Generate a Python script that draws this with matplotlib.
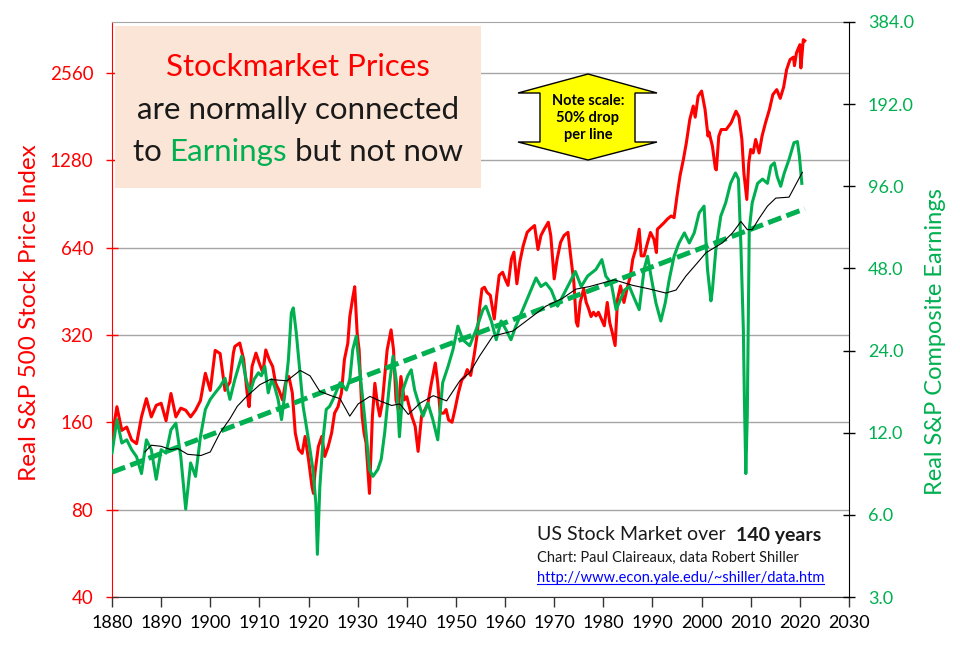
import matplotlib
matplotlib.use("Agg")
import matplotlib.pyplot as plt
from matplotlib.patches import Rectangle, Polygon
from matplotlib.lines import Line2D
from matplotlib.offsetbox import TextArea, HPacker, AnchoredOffsetbox
from matplotlib.ticker import FixedLocator, NullLocator, FuncFormatter

plt.rcParams['font.family'] = ['Lato', 'DejaVu Sans']

RED = '#FF0000'
GREEN = '#00B050'
DARK = '#1A1A1A'

# Real S&P 500 price index (left axis)
price_years = [1880.0, 1881.0, 1882.0, 1883.0, 1884.0, 1885.0, 1886.0, 1887.0, 1888.0, 1889.0,
               1890.0, 1891.0, 1892.0, 1893.0, 1894.0, 1895.0, 1896.0, 1897.0, 1898.0, 1899.0,
               1900.0, 1901.0, 1902.0, 1903.0, 1904.0, 1904.7, 1905.0, 1906.0, 1906.8, 1907.5,
               1907.9, 1908.5, 1909.3, 1910.0, 1910.7, 1911.3, 1912.0, 1912.7, 1913.3, 1914.0,
               1914.7, 1915.3, 1916.0, 1916.7, 1917.3, 1918.0, 1918.7, 1919.3, 1920.0, 1920.7,
               1921.0, 1921.3, 1922.0, 1922.7, 1923.3, 1924.0, 1924.7, 1925.3, 1926.0, 1926.7,
               1927.3, 1928.0, 1928.4, 1929.0, 1929.4, 1929.9, 1930.3, 1930.9, 1931.3, 1931.7,
               1932.4, 1933.0, 1933.5, 1934.0, 1934.5, 1935.0, 1935.5, 1936.0, 1936.8, 1937.3,
               1937.8, 1938.3, 1938.8, 1939.5, 1940.0, 1940.5, 1941.0, 1941.7, 1942.3, 1943.0,
               1943.7, 1944.3, 1945.0, 1945.8, 1946.3, 1946.8, 1947.5, 1948.0, 1948.5, 1949.2,
               1949.8, 1950.5, 1951.2, 1951.8, 1952.3, 1953.0, 1953.7, 1954.3, 1954.8, 1955.3,
               1955.8, 1956.3, 1957.0, 1957.8, 1958.3, 1958.8, 1959.5, 1960.0, 1960.6, 1961.3,
               1961.8, 1962.4, 1963.0, 1963.7, 1964.5, 1965.2, 1966.0, 1966.7, 1967.3, 1968.0,
               1968.8, 1969.3, 1970.0, 1970.6, 1971.3, 1972.0, 1972.8, 1973.5, 1974.0, 1974.5,
               1974.8, 1975.3, 1976.0, 1976.5, 1977.0, 1977.5, 1978.0, 1978.5, 1979.0, 1979.6,
               1980.2, 1980.8, 1981.3, 1981.8, 1982.4, 1982.9, 1983.5, 1984.2, 1984.8, 1985.5,
               1986.0, 1986.6, 1987.3, 1987.7, 1988.3, 1989.0, 1989.6, 1990.3, 1990.8, 1991.0,
               1991.7, 1992.4, 1993.0, 1993.8, 1994.4, 1995.0, 1995.6, 1996.3, 1996.9, 1997.6,
               1998.3, 1998.7, 1999.3, 2000.0, 2000.7, 2001.3, 2001.5, 2002.2, 2002.8, 2003.0,
               2003.5, 2004.0, 2005.0, 2006.0, 2007.0, 2007.6, 2008.2, 2008.6, 2009.2, 2009.6,
               2010.0, 2010.5, 2011.0, 2011.7, 2012.3, 2013.0, 2013.8, 2014.5, 2015.3, 2016.0,
               2016.7, 2017.3, 2018.0, 2018.7, 2018.9, 2019.3, 2020.0, 2020.2, 2020.7, 2021.0]
price = [142, 181, 150, 154, 139, 135, 167, 193, 167, 183,
         186, 162, 201, 167, 179, 176, 167, 176, 190, 236,
         206, 283, 276, 206, 220, 277, 292, 300, 263, 202,
         181, 249, 277, 255, 237, 284, 263, 249, 218, 206,
         191, 218, 230, 202, 147, 129, 125, 143, 119, 96,
         91, 107, 132, 143, 122, 132, 147, 172, 181, 202,
         263, 300, 370, 430, 469, 324, 284, 168, 147, 136,
         91, 168, 218, 186, 168, 186, 230, 284, 333, 284,
         191, 177, 230, 191, 196, 181, 168, 155, 127, 168,
         177, 186, 218, 256, 218, 172, 172, 177, 163, 160,
         177, 202, 224, 230, 243, 232, 272, 319, 394, 461,
         467, 449, 438, 363, 438, 513, 526, 499, 474, 585,
         617, 480, 570, 650, 722, 742, 762, 630, 704, 742,
         782, 704, 499, 585, 667, 704, 722, 570, 486, 354,
         343, 415, 461, 415, 394, 370, 383, 372, 383, 363,
         344, 414, 353, 327, 294, 425, 472, 414, 460, 511,
         584, 632, 740, 599, 599, 666, 721, 683, 615, 740,
         760, 780, 801, 822, 811, 964, 1129, 1289, 1470, 1769,
         1966, 1800, 2128, 2214, 1915, 1550, 1600, 1430, 1198, 1185,
         1548, 1632, 1632, 1720, 1887, 1805, 1508, 1158, 937, 1253,
         1393, 1355, 1508, 1355, 1548, 1720, 1912, 2153, 2240, 2090,
         2285, 2625, 2842, 2899, 2708, 2996, 3200, 2660, 3329, 3300]

# Real S&P composite earnings (right axis)
earn_years = [1880.0, 1881.0, 1882.0, 1883.0, 1884.0, 1885.0, 1886.0, 1887.0, 1888.0, 1889.0,
              1890.0, 1891.0, 1892.0, 1893.0, 1894.0, 1895.0, 1896.0, 1897.0, 1898.0, 1899.0,
              1900.0, 1901.0, 1902.0, 1903.0, 1904.0, 1905.0, 1906.4, 1907.3, 1908.1, 1908.9,
              1909.8, 1910.4, 1911.1, 1911.8, 1912.5, 1913.1, 1913.8, 1914.5, 1915.2, 1915.9,
              1916.5, 1916.9, 1917.5, 1918.2, 1918.9, 1919.9, 1920.9, 1921.5, 1921.8, 1922.3,
              1923.0, 1923.6, 1924.3, 1925.0, 1926.4, 1927.7, 1928.4, 1929.0, 1929.7, 1930.4,
              1931.4, 1932.4, 1933.1, 1934.1, 1934.8, 1935.5, 1936.5, 1937.2, 1937.9, 1938.5,
              1939.2, 1940.2, 1940.9, 1941.6, 1942.6, 1943.3, 1944.3, 1945.3, 1946.3, 1947.3,
              1948.4, 1949.4, 1950.4, 1951.4, 1952.8, 1954.1, 1955.5, 1956.1, 1957.2, 1958.2,
              1959.2, 1960.2, 1961.2, 1962.2, 1963.6, 1965.0, 1966.3, 1967.3, 1968.3, 1969.4,
              1970.7, 1971.7, 1973.1, 1974.3, 1975.5, 1976.8, 1978.5, 1979.7, 1980.5, 1981.6,
              1982.6, 1983.2, 1984.3, 1985.3, 1986.3, 1987.3, 1988.3, 1989.0, 1989.7, 1990.7,
              1991.7, 1992.6, 1993.4, 1994.4, 1995.4, 1996.5, 1997.5, 1998.5, 1999.5, 2000.5,
              2001.2, 2001.9, 2002.2, 2002.9, 2003.9, 2004.9, 2005.9, 2006.9, 2007.5, 2008.0,
              2008.5, 2008.7, 2009.0, 2009.3, 2009.7, 2010.3, 2011.4, 2012.4, 2013.4, 2014.1,
              2014.8, 2015.4, 2016.1, 2016.8, 2017.8, 2018.8, 2019.5, 2019.9, 2020.4]
earnings = [10.1, 13.4, 11.0, 11.3, 10.4, 9.8, 8.5, 11.3, 10.4, 8.1,
            10.4, 10.1, 12.3, 13.0, 9.8, 6.3, 9.3, 8.3, 11.6, 14.6,
            15.9, 16.8, 17.7, 19.0, 15.9, 18.8, 22.9, 18.8, 16.8, 18.8,
            19.9, 19.4, 21.0, 16.8, 18.8, 17.7, 15.9, 13.4, 16.8, 22.2,
            33.0, 34.4, 27.9, 20.4, 15.0, 11.6, 8.8, 6.6, 4.3, 7.6,
            11.6, 14.6, 15.0, 15.9, 18.3, 17.2, 18.8, 24.2, 27.1, 20.4,
            13.8, 8.8, 8.3, 8.8, 9.6, 12.0, 18.3, 22.9, 18.3, 11.6,
            17.2, 19.4, 20.4, 17.2, 15.0, 13.8, 15.4, 13.4, 11.3, 18.3,
            21.0, 24.2, 29.5, 26.3, 25.0, 28.6, 33.9, 34.9, 30.8, 26.3,
            30.8, 28.6, 26.3, 29.5, 33.9, 39.0, 44.3, 41.2, 42.4, 40.0,
            34.9, 37.9, 42.4, 46.8, 41.2, 45.0, 47.6, 51.7, 45.0, 42.4,
            33.9, 35.9, 40.0, 41.2, 37.3, 33.9, 47.6, 53.2, 45.0, 35.9,
            30.8, 35.9, 43.6, 53.2, 59.5, 64.8, 59.5, 64.8, 76.7, 81.2,
            47.6, 36.5, 40.0, 56.3, 74.6, 83.5, 98.4, 107.4, 102.0, 57.9,
            28.6, 16.3, 8.5, 14.0, 66.6, 83.5, 98.4, 102.0, 98.4, 113.9,
            117.0, 104.0, 96.0, 107.0, 120.5, 138.7, 140.0, 124.0, 98.4]

# smoothed earnings (thin black line, right axis)
avg_years = [1886.7, 1888.0, 1890.0, 1892.0, 1893.4, 1895.4, 1898.1, 1900.0, 1902.0, 1904.0,
             1905.5, 1907.4, 1910.1, 1912.2, 1915.6, 1918.3, 1920.3, 1922.3, 1925.0, 1926.4,
             1928.4, 1930.1, 1932.5, 1934.5, 1936.9, 1938.6, 1940.3, 1942.7, 1945.4, 1948.1,
             1950.8, 1952.8, 1954.8, 1957.5, 1961.6, 1964.3, 1968.3, 1971.7, 1974.4, 1977.2,
             1982.2, 1986.0, 1989.3, 1992.7, 1994.8, 1996.8, 1998.8, 2000.9, 2004.2, 2006.3,
             2008.0, 2009.3, 2010.3, 2011.7, 2013.4, 2015.1, 2017.8, 2019.3, 2020.5]
avg_earnings = [10.2, 10.8, 10.7, 10.4, 10.5, 10.0, 9.9, 10.2, 12.0, 13.5,
                15.0, 16.3, 18.0, 18.8, 18.6, 20.3, 19.4, 17.0, 16.3, 16.0,
                13.8, 15.3, 16.3, 15.7, 15.1, 15.3, 14.0, 15.4, 16.4, 15.7,
                18.6, 19.9, 22.9, 27.1, 28.3, 30.8, 34.9, 37.3, 40.3, 41.2,
                43.6, 41.6, 40.4, 39.0, 40.0, 45.0, 49.5, 54.8, 59.5, 64.8,
                71.3, 66.6, 66.6, 73.2, 81.2, 86.9, 87.6, 98.4, 108.0]

# earnings trend (dashed)
trend_years = [1880, 2021]
trend_earnings = [8.6, 79.4]

left_ticks = [40, 80, 160, 320, 640, 1280, 2560]
right_ticks = [3, 6, 12, 24, 48, 96, 192, 384]
x_ticks = list(range(1880, 2031, 10))

W, H = 960, 655
fig = plt.figure(figsize=(W / 100, H / 100), dpi=100)
fig.patch.set_facecolor('white')


def fx(px):
    return px / W


def fy(py):
    return 1 - py / H


ax = fig.add_axes([fx(112), fy(597), (849 - 112) / W, (597 - 22) / H])
ax2 = ax.twinx()

ax.plot(price_years, price, color=RED, lw=2.2, zorder=2)
ax2.plot(earn_years, earnings, color=GREEN, lw=2.2, zorder=2)
ax2.plot(trend_years, trend_earnings, color=GREEN, lw=3.6, dashes=(2.8, 1.1), zorder=3)
ax2.plot(avg_years, avg_earnings, color='black', lw=0.8, zorder=4)

# left axis
ax.set_yscale('log', base=2)
ax.set_ylim(40, 3830)
ax.yaxis.set_major_locator(FixedLocator(left_ticks))
ax.yaxis.set_minor_locator(NullLocator())
ax.yaxis.set_major_formatter(FuncFormatter(lambda v, p: '%d' % round(v)))
ax.tick_params(axis='y', colors=RED, direction='inout', length=9, width=1,
               labelsize=13.5, pad=9)
ax.yaxis.grid(True, color='#A6A6A6', lw=1)
ax.set_ylabel('Real S&P 500 Stock Price Index', color=RED, fontsize=17.5)
ax.yaxis.set_label_coords(-0.098, 0.494)

# right axis
ax2.set_yscale('log', base=2)
ax2.set_ylim(3, 384)
ax2.yaxis.set_major_locator(FixedLocator(right_ticks))
ax2.yaxis.set_minor_locator(NullLocator())
ax2.yaxis.set_major_formatter(FuncFormatter(lambda v, p: '%.1f' % v))
ax2.tick_params(axis='y', colors='black', labelcolor=GREEN, direction='inout',
                length=9, width=1, labelsize=13, pad=9)
ax2.set_ylabel('Real S&P Composite Earnings', color=GREEN, fontsize=17)
ax2.yaxis.set_label_coords(1.103, 0.445)

# x axis
ax.set_xlim(1880, 2030)
ax.xaxis.set_major_locator(FixedLocator(x_ticks))
ax.tick_params(axis='x', colors='#333333', labelcolor='black', direction='out',
               length=7, width=1, labelsize=13, pad=6)

ax.spines['left'].set_color(RED)
ax.spines['top'].set_color('#A6A6A6')
ax.spines['bottom'].set_color('#333333')
ax.spines['right'].set_visible(False)
for s in ['left', 'top', 'bottom']:
    ax2.spines[s].set_visible(False)
ax2.spines['right'].set_color('black')

# peach title box
ax2.add_patch(Rectangle((fx(115), fy(188)), (481 - 115) / W, (188 - 26) / H,
                        transform=fig.transFigure, facecolor='#FBE5D6',
                        edgecolor='none', clip_on=False, zorder=10))


def text_row(parts, xy, loc, size):
    boxes = [TextArea(t, textprops=dict(color=c, fontsize=size, fontweight=w))
             for t, c, w in parts]
    row = HPacker(children=boxes, align='baseline', pad=0, sep=0)
    anchored = AnchoredOffsetbox(loc=loc, child=row, pad=0, borderpad=0, frameon=False,
                                 bbox_to_anchor=(fx(xy[0]), fy(xy[1])),
                                 bbox_transform=fig.transFigure)
    anchored.set_zorder(11)
    ax2.add_artist(anchored)
    return anchored


text_row([('Stockmarket Prices', RED, 'normal')], (298, 67), 'center', 22.5)
text_row([('are normally connected', DARK, 'normal')], (298, 110), 'center', 22.5)
text_row([('to ', DARK, 'normal'), ('Earnings', GREEN, 'normal'),
          (' but not now', DARK, 'normal')], (298, 152), 'center', 22.5)

# yellow double arrow
arrow_px = [(588, 74), (657, 93), (635, 93), (635, 142), (657, 142), (588, 160),
            (518, 142), (540, 142), (540, 93), (518, 93)]
ax2.add_patch(Polygon([(fx(x), fy(y)) for x, y in arrow_px], closed=True,
                      transform=fig.transFigure, facecolor='#FFFF00',
                      edgecolor='black', lw=1, clip_on=False, zorder=10))
fig.text(fx(588), fy(118), 'Note scale:\n50% drop\nper line', ha='center', va='center',
         fontsize=10.5, fontweight='bold', color='black', linespacing=1.3, zorder=12)

# source notes
text_row([('US Stock Market over  ', DARK, 'normal'), ('140 years', DARK, 'bold')],
         (537, 535), 'center left', 14)
text_row([('Chart: Paul Claireaux, data Robert Shiller', DARK, 'normal')],
         (537, 558), 'center left', 10.5)
link = fig.text(fx(537), fy(578), 'http://www.econ.yale.edu/~shiller/data.htm',
                ha='left', va='center', fontsize=10.5, color='#0000FF')
fig.canvas.draw()
bb = link.get_window_extent().transformed(fig.transFigure.inverted())
fig.add_artist(Line2D([bb.x0, bb.x1], [bb.y0 + 0.002, bb.y0 + 0.002],
                      transform=fig.transFigure, color='#0000FF', lw=0.8))

fig.savefig('out.png', dpi=100)
